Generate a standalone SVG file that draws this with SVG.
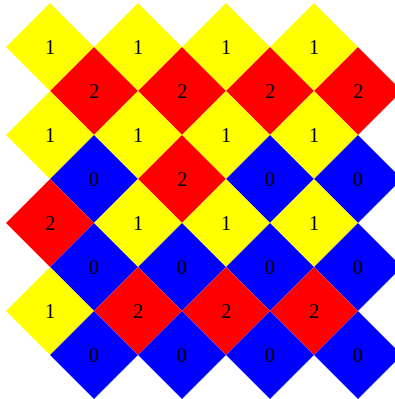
<svg xmlns="http://www.w3.org/2000/svg" xmlns:xlink="http://www.w3.org/1999/xlink" width="395" height="399" viewBox="0 0 395 399">
<style>
.y{fill:#ffff00}.r{fill:#ff0000}.b{fill:#0000ff}
text{font-family:"Liberation Serif","Times New Roman",serif;font-size:20px;fill:#000;text-anchor:middle}
</style>
<defs><path id="d" d="M0,-44L44,0L0,44L-44,0Z"/></defs>
<rect width="395" height="399" fill="#fff"/>
<g id="r1">
<g id="n1" transform="translate(50,47)"><use href="#d" class="y"/><text y="7">1</text></g>
<g id="n2" transform="translate(138,47)"><use href="#d" class="y"/><text y="7">1</text></g>
<g id="n3" transform="translate(226,47)"><use href="#d" class="y"/><text y="7">1</text></g>
<g id="n4" transform="translate(314,47)"><use href="#d" class="y"/><text y="7">1</text></g>
</g>
<g id="r2">
<g id="n5" transform="translate(94,91)"><use href="#d" class="r"/><text y="7">2</text></g>
<g id="n6" transform="translate(182,91)"><use href="#d" class="r"/><text y="7">2</text></g>
<g id="n7" transform="translate(270,91)"><use href="#d" class="r"/><text y="7">2</text></g>
<g id="n8" transform="translate(358,91)"><use href="#d" class="r"/><text y="7">2</text></g>
</g>
<g id="r3">
<g id="n9" transform="translate(50,135)"><use href="#d" class="y"/><text y="7">1</text></g>
<g id="n10" transform="translate(138,135)"><use href="#d" class="y"/><text y="7">1</text></g>
<g id="n11" transform="translate(226,135)"><use href="#d" class="y"/><text y="7">1</text></g>
<g id="n12" transform="translate(314,135)"><use href="#d" class="y"/><text y="7">1</text></g>
</g>
<g id="r4">
<g id="n13" transform="translate(94,179)"><use href="#d" class="b"/><text y="7">0</text></g>
<g id="n14" transform="translate(182,179)"><use href="#d" class="r"/><text y="7">2</text></g>
<g id="n15" transform="translate(270,179)"><use href="#d" class="b"/><text y="7">0</text></g>
<g id="n16" transform="translate(358,179)"><use href="#d" class="b"/><text y="7">0</text></g>
</g>
<g id="r5">
<g id="n17" transform="translate(50,223)"><use href="#d" class="r"/><text y="7">2</text></g>
<g id="n18" transform="translate(138,223)"><use href="#d" class="y"/><text y="7">1</text></g>
<g id="n19" transform="translate(226,223)"><use href="#d" class="y"/><text y="7">1</text></g>
<g id="n20" transform="translate(314,223)"><use href="#d" class="y"/><text y="7">1</text></g>
</g>
<g id="r6">
<g id="n21" transform="translate(94,267)"><use href="#d" class="b"/><text y="7">0</text></g>
<g id="n22" transform="translate(182,267)"><use href="#d" class="b"/><text y="7">0</text></g>
<g id="n23" transform="translate(270,267)"><use href="#d" class="b"/><text y="7">0</text></g>
<g id="n24" transform="translate(358,267)"><use href="#d" class="b"/><text y="7">0</text></g>
</g>
<g id="r7">
<g id="n25" transform="translate(50,311)"><use href="#d" class="y"/><text y="7">1</text></g>
<g id="n26" transform="translate(138,311)"><use href="#d" class="r"/><text y="7">2</text></g>
<g id="n27" transform="translate(226,311)"><use href="#d" class="r"/><text y="7">2</text></g>
<g id="n28" transform="translate(314,311)"><use href="#d" class="r"/><text y="7">2</text></g>
</g>
<g id="r8">
<g id="n29" transform="translate(94,355)"><use href="#d" class="b"/><text y="7">0</text></g>
<g id="n30" transform="translate(182,355)"><use href="#d" class="b"/><text y="7">0</text></g>
<g id="n31" transform="translate(270,355)"><use href="#d" class="b"/><text y="7">0</text></g>
<g id="n32" transform="translate(358,355)"><use href="#d" class="b"/><text y="7">0</text></g>
</g>
<g id="connectors"/>
</svg>
